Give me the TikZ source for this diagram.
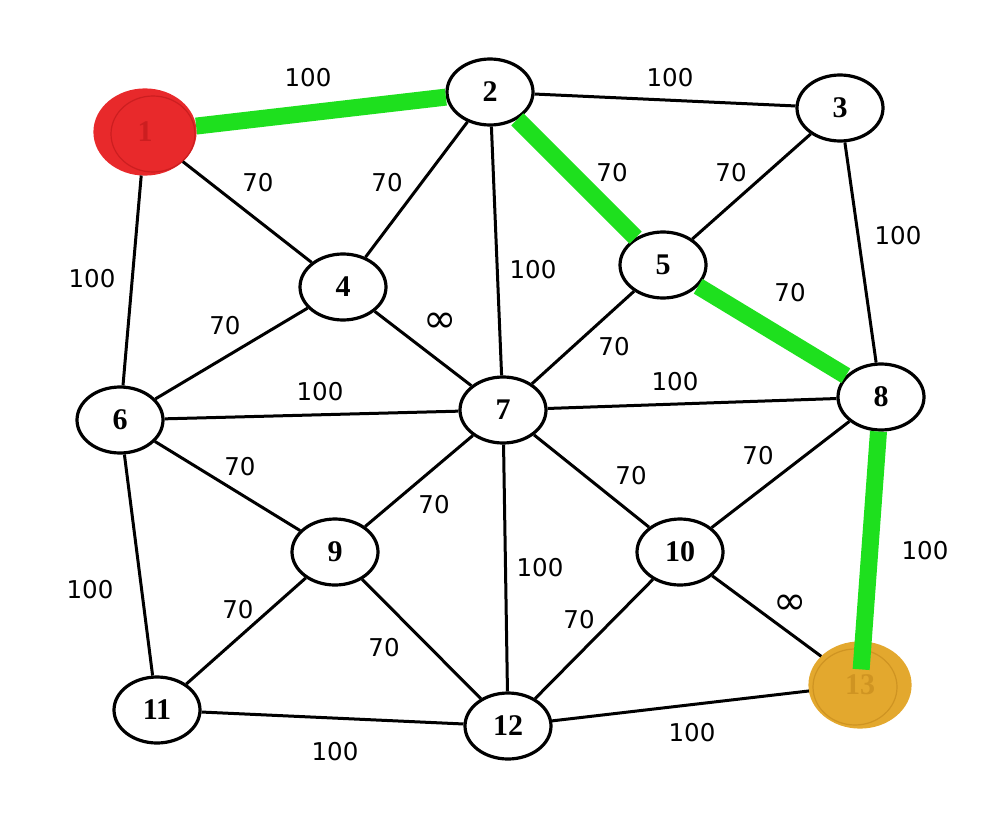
\documentclass[tikz,border=0pt]{standalone}
\usepackage{fontspec}
\usetikzlibrary{shapes.geometric}
\newfontfamily\labelfont{DejaVu Sans}
\newfontfamily\vertexfont{Liberation Serif}
\definecolor{pathgreen}{HTML}{1EE01E}
\definecolor{startred}{HTML}{E8292B}
\definecolor{startdark}{HTML}{CC1E20}
\definecolor{goalgold}{HTML}{E3A82E}
\definecolor{goaldark}{HTML}{CF9422}
\tikzset{x=1pt, y=-1pt,
  vertex/.style={ellipse, draw, line width=3.2pt, fill=white, minimum width=86pt, minimum height=66pt, inner sep=0pt, font=\vertexfont\bfseries\fontsize{30}{30}\selectfont},
  weight/.style={font=\labelfont\fontsize{24.5}{24.5}\selectfont, inner sep=0pt},
  never/.style={font=\labelfont\fontsize{40}{40}\selectfont, inner sep=0pt},
  edge/.style={line width=3pt},
  chosen/.style={pathgreen, line width=17pt}}

\begin{document}
\begin{tikzpicture}
  \useasboundingbox (0,0) rectangle (1008,821);
  % vertices
  \node[vertex, fill=startred, draw=startred, text=startdark, minimum width=100pt, minimum height=84pt] (n1) at (145,132) {1};
  \node[ellipse, draw=startdark, line width=1.2pt, minimum width=84pt, minimum height=76pt] (r1) at (153,134) {};
  \node[vertex] (n2)  at (490, 92) {2};
  \node[vertex] (n3)  at (840,108) {3};
  \node[vertex] (n4)  at (343,287) {4};
  \node[vertex] (n5)  at (663,265) {5};
  \node[vertex] (n6)  at (120,420) {6};
  \node[vertex] (n7)  at (503,410) {7};
  \node[vertex] (n8)  at (881,397) {8};
  \node[vertex] (n9)  at (335,552) {9};
  \node[vertex] (n10) at (680,552) {10};
  \node[vertex] (n11) at (157,710) {11};
  \node[vertex] (n12) at (508,726) {12};
  \node[vertex, fill=goalgold, draw=goalgold, text=goaldark, minimum width=100pt, minimum height=84pt] (n13) at (860,685) {13};
  \node[ellipse, draw=goaldark, line width=1.2pt, minimum width=84pt, minimum height=76pt] (r13) at (855,687) {};
  % plain edges
  \foreach \a/\b in {n2/n3, n1/n4, n2/n4, n2/n7, n3/n5, n3/n8, n5/n7, n1/n6, n4/n6, n4/n7,
                     n6/n7, n7/n8, n6/n9, n6/n11, n7/n9, n7/n10, n7/n12, n8/n10, n9/n11,
                     n9/n12, n10/n12, n10/n13, n11/n12, n12/n13}
    \draw[edge] (\a) -- (\b);
  % shortest path
  \draw[chosen] (n1) -- (n2);
  \draw[chosen] (n2) -- (n5);
  \draw[chosen] (n5) -- (n8);
  \draw[chosen, shorten >=-28pt] (n8) -- (n13);
  % weights
  \node[weight] (w12)   at (308, 78) {100};
  \node[weight] (w23)   at (670, 78) {100};
  \node[weight] (w14)   at (258,183) {70};
  \node[weight] (w24)   at (387,183) {70};
  \node[weight] (w27)   at (533,270) {100};
  \node[weight] (w25)   at (612,173) {70};
  \node[weight] (w35)   at (731,173) {70};
  \node[weight] (w38)   at (898,236) {100};
  \node[weight] (w58)   at (790,293) {70};
  \node[weight] (w57)   at (614,347) {70};
  \node[weight] (w16)   at ( 92,279) {100};
  \node[weight] (w46)   at (225,326) {70};
  \node[never]  (w47)   at (440,323) {∞};
  \node[weight] (w67)   at (320,392) {100};
  \node[weight] (w78)   at (675,382) {100};
  \node[weight] (w69)   at (240,467) {70};
  \node[weight] (w611)  at ( 90,590) {100};
  \node[weight] (w79)   at (434,505) {70};
  \node[weight] (w710)  at (631,476) {70};
  \node[weight] (w712)  at (540,568) {100};
  \node[weight] (w810)  at (758,456) {70};
  \node[weight] (w813)  at (925,551) {100};
  \node[weight] (w911)  at (238,610) {70};
  \node[weight] (w912)  at (384,648) {70};
  \node[weight] (w1012) at (579,620) {70};
  \node[never]  (w1013) at (790,605) {∞};
  \node[weight] (w1112) at (335,752) {100};
  \node[weight] (w1213) at (692,733) {100};
\end{tikzpicture}
\end{document}
